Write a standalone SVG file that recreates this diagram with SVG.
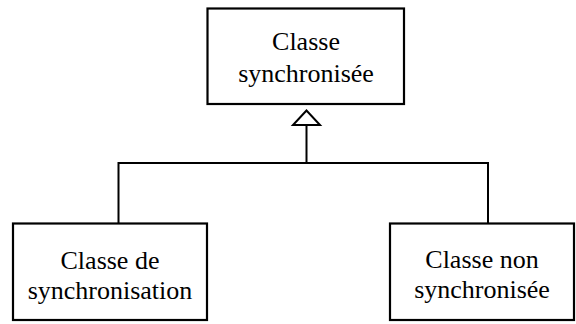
<svg xmlns="http://www.w3.org/2000/svg" width="576" height="324" viewBox="0 0 576 324">
<style>
.box{fill:#fff;stroke:#000;stroke-width:2.2}
.t{font-family:"Liberation Serif","Times New Roman",serif;font-size:26px;fill:#000;text-anchor:middle}
.c{fill:none;stroke:#000;stroke-width:2}
</style>
<rect width="576" height="324" fill="#fff"/>
<g id="connectors">
<polyline class="c" points="118.5,223 118.5,163 488,163 488,223"/>
<line class="c" x1="306.5" y1="163" x2="306.5" y2="125"/>
<polygon points="306.5,110.5 293,125 320,125" fill="#fff" stroke="#000" stroke-width="2"/>
</g>
<g id="classe-synchronisee">
<rect class="box" x="207.5" y="8.5" width="196.5" height="95.5"/>
<text class="t" x="306" y="50">Classe</text>
<text class="t" x="306" y="82">synchronisée</text>
</g>
<g id="classe-de-synchronisation">
<rect class="box" x="13" y="223.5" width="194" height="96.5"/>
<text class="t" x="110" y="269">Classe de</text>
<text class="t" x="110" y="299">synchronisation</text>
</g>
<g id="classe-non-synchronisee">
<rect class="box" x="390" y="223.5" width="184" height="96.5"/>
<text class="t" x="482" y="268">Classe non</text>
<text class="t" x="482" y="298">synchronisée</text>
</g>
</svg>
